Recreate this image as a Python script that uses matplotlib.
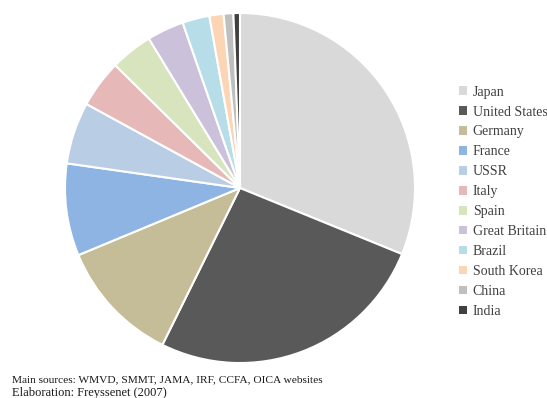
import matplotlib
matplotlib.use('Agg')
import matplotlib.pyplot as plt
from matplotlib.patches import Patch

countries = ['Japan', 'United States', 'Germany', 'France', 'USSR', 'Italy',
             'Spain', 'Great Britain', 'Brazil', 'South Korea', 'China', 'India']
shares = [31.1, 26.1, 11.4, 8.5, 5.7, 4.4, 3.9, 3.4, 2.5, 1.3, 0.9, 0.6]
colors = ['#d9d9d9', '#595959', '#c4bd97', '#8eb4e3', '#b9cde5', '#e6b9b8',
          '#d7e4bd', '#ccc1da', '#b7dee8', '#fcd5b5', '#bfbfbf', '#404040']

plt.rcParams['font.family'] = ['Liberation Serif', 'DejaVu Serif']

fig = plt.figure(figsize=(5.47, 3.98), dpi=100)
ax = fig.add_axes([0.1188, 0.0879, 0.6399, 0.8794])
ax.pie(shares, colors=colors, startangle=90, counterclock=False,
       wedgeprops=dict(edgecolor='white', linewidth=1.5))
ax.set_xlim(-1, 1)
ax.set_ylim(-1, 1)
ax.set_aspect('equal')

handles = [Patch(facecolor=c, edgecolor='none') for c in colors]
leg = fig.legend(handles, countries, loc='upper left', bbox_to_anchor=(0.839, 0.785),
                 frameon=False, fontsize=10, handlelength=0.55, handleheight=0.55,
                 handletextpad=0.45, labelspacing=0.5, borderaxespad=0, borderpad=0)
for t in leg.get_texts():
    t.set_color('#404040')

fig.text(0.022, 0.045, 'Main sources: WMVD, SMMT, JAMA, IRF, CCFA, OICA websites',
         fontsize=8.2, color='#1a1a1a', va='center')
fig.text(0.022, 0.012, 'Elaboration: Freyssenet (2007)',
         fontsize=9, color='#1a1a1a', va='center')

fig.savefig('out.png', dpi=100)
